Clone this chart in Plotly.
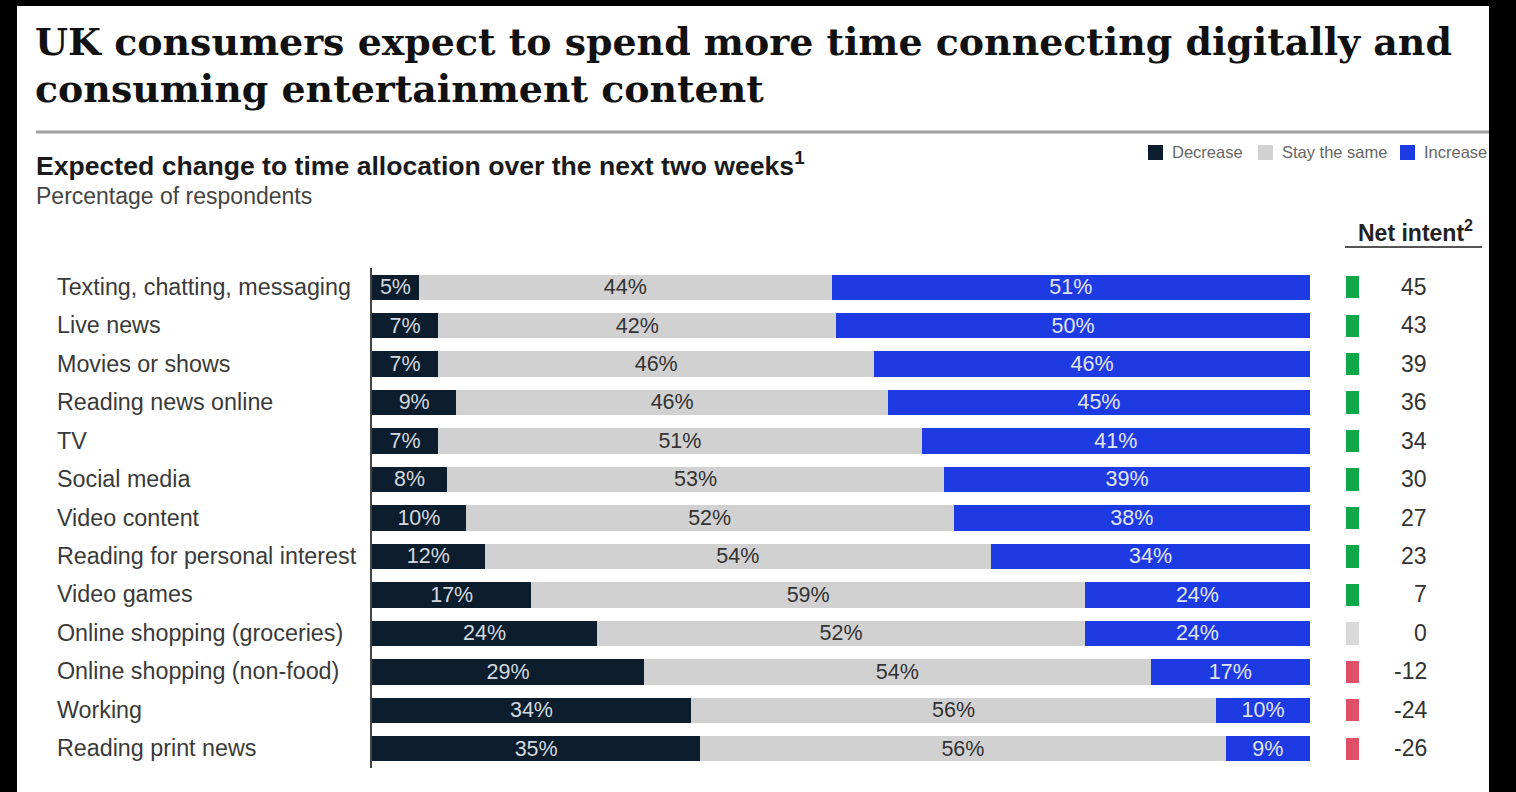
import plotly.graph_objects as go

W, H = 1516, 792

categories = [
    "Texting, chatting, messaging", "Live news", "Movies or shows", "Reading news online",
    "TV", "Social media", "Video content", "Reading for personal interest", "Video games",
    "Online shopping (groceries)", "Online shopping (non-food)", "Working", "Reading print news",
]
decrease = [5, 7, 7, 9, 7, 8, 10, 12, 17, 24, 29, 34, 35]
stay_same = [44, 42, 46, 46, 51, 53, 52, 54, 59, 52, 54, 56, 56]
increase = [51, 50, 46, 45, 41, 39, 38, 34, 24, 24, 17, 10, 9]
net_intent = [45, 43, 39, 36, 34, 30, 27, 23, 7, 0, -12, -24, -26]

C_DEC = "#0c1e2e"
C_SAME = "#d1d1d1"
C_INC = "#1e3be3"
C_POS = "#0ea84b"
C_ZERO = "#d9d9d9"
C_NEG = "#e04f68"

SANS = "Liberation Sans, Arial, Helvetica, sans-serif"
SERIF = "DejaVu Serif, Georgia, serif"


def px(x):
    return x / W


def py(y):
    return 1 - y / H


row_top, row_bot = 267.5, 767.5
fig = go.Figure()

# normalised shares (rows are drawn to a full 100% width)
totals = [d + s + i for d, s, i in zip(decrease, stay_same, increase)]
dec_n = [d / t * 100 for d, t in zip(decrease, totals)]
same_n = [s / t * 100 for s, t in zip(stay_same, totals)]
inc_n = [i / t * 100 for i, t in zip(increase, totals)]

bar_w = 0.66
for name, vals, col in [
    ("Decrease", dec_n, C_DEC),
    ("Stay the same", same_n, C_SAME),
    ("Increase", inc_n, C_INC),
]:
    fig.add_trace(go.Bar(
        y=categories, x=vals, orientation="h", name=name,
        marker=dict(color=col, line=dict(width=0)),
        width=bar_w, showlegend=False, hoverinfo="skip",
        xaxis="x", yaxis="y",
    ))

# segment labels
mid_dec = [d / 2 for d in dec_n]
mid_same = [d + s / 2 for d, s in zip(dec_n, same_n)]
mid_inc = [d + s + i / 2 for d, s, i in zip(dec_n, same_n, inc_n)]
for mids, vals, tcol in [
    (mid_dec, decrease, "#d3d8df"),
    (mid_same, stay_same, "#333333"),
    (mid_inc, increase, "#e0e4f6"),
]:
    fig.add_trace(go.Scatter(
        x=mids, y=categories, mode="text", text=[f"{v}%" for v in vals],
        textposition="middle center",
        textfont=dict(family=SANS, size=21.5, color=tcol),
        showlegend=False, hoverinfo="skip", cliponaxis=False,
        xaxis="x", yaxis="y3",
    ))

net_cols = [C_POS if v > 0 else (C_NEG if v < 0 else C_ZERO) for v in net_intent]
fig.add_trace(go.Bar(
    y=categories, x=[1] * len(categories), orientation="h",
    marker=dict(color=net_cols, line=dict(width=0)), width=0.58,
    showlegend=False, hoverinfo="skip", xaxis="x2", yaxis="y",
))

shift = 2  # px: labels sit slightly lower to look centred in the bars
fig.update_layout(
    width=W, height=H,
    margin=dict(l=0, r=0, t=0, b=0),
    paper_bgcolor="#000000", plot_bgcolor="rgba(0,0,0,0)",
    barmode="stack", bargap=0,
    xaxis=dict(domain=[px(372), px(1310)], range=[0, 100], visible=False, fixedrange=True),
    xaxis2=dict(domain=[px(1346), px(1359)], range=[0, 1], visible=False, anchor="y"),
    yaxis=dict(domain=[py(row_bot), py(row_top)], range=[12.5, -0.5],
               showticklabels=False, showgrid=False, zeroline=False, ticks="",
               showline=True, linecolor="#444444", linewidth=1.5, anchor="x"),
    yaxis3=dict(domain=[py(row_bot + shift), py(row_top + shift)], range=[12.5, -0.5],
                visible=False, anchor="x", type="category",
                categoryorder="array", categoryarray=categories),
    font=dict(family=SANS, color="#333333"),
)

shapes = [
    dict(type="rect", xref="paper", yref="paper", x0=px(17), x1=px(1489), y0=0, y1=py(6),
         fillcolor="#ffffff", line=dict(width=0), layer="below"),
    dict(type="line", xref="paper", yref="paper", x0=px(36), x1=px(1489), y0=py(132), y1=py(132),
         line=dict(color="#a0a0a0", width=3)),
    dict(type="line", xref="paper", yref="paper", x0=px(1345), x1=px(1482), y0=py(247), y1=py(247),
         line=dict(color="#555555", width=2)),
]

annotations = []
# Title (two lines)
for txt, yc in [("UK consumers expect to spend more time connecting digitally and", 41),
                ("consuming entertainment content", 89)]:
    annotations.append(dict(
        xref="paper", yref="paper", x=px(33), y=py(yc), xanchor="left", yanchor="middle",
        text=f"<b>{txt}</b>", showarrow=False,
        font=dict(family=SERIF, size=37.9, color="#111111"),
    ))
annotations.append(dict(
    xref="paper", yref="paper", x=px(34), y=py(164), xanchor="left", yanchor="middle",
    text="<b>Expected change to time allocation over the next two weeks<sup>1</sup></b>",
    showarrow=False, font=dict(family=SANS, size=26.6, color="#1a1a1a"),
))
annotations.append(dict(
    xref="paper", yref="paper", x=px(34), y=py(196), xanchor="left", yanchor="middle",
    text="Percentage of respondents", showarrow=False, font=dict(family=SANS, size=23, color="#444444"),
))
annotations.append(dict(
    xref="paper", yref="paper", x=px(1415), y=py(231), xanchor="center", yanchor="middle",
    text="<b>Net intent<sup>2</sup></b>", showarrow=False, font=dict(family=SANS, size=23, color="#222222"),
))

# Legend (manual)
leg_items = [("Decrease", C_DEC, 1148), ("Stay the same", C_SAME, 1258), ("Increase", C_INC, 1400)]
for name, col, x0 in leg_items:
    shapes.append(dict(type="rect", xref="paper", yref="paper", x0=px(x0), x1=px(x0 + 15),
                       y0=py(160), y1=py(145), fillcolor=col, line=dict(width=0)))
    annotations.append(dict(xref="paper", yref="paper", x=px(x0 + 22), y=py(152),
                            xanchor="left", yanchor="middle", text=name, showarrow=False,
                            font=dict(family=SANS, size=16.5, color="#666666")))

# Category labels
for cat in categories:
    annotations.append(dict(xref="paper", yref="y", x=px(55), y=cat, xanchor="left",
                            yanchor="middle", text=cat, showarrow=False,
                            font=dict(family=SANS, size=23.3, color="#3a3a3a")))

# Net intent values
for cat, v in zip(categories, net_intent):
    annotations.append(dict(xref="paper", yref="y", x=px(1429), y=cat, xanchor="right",
                            yanchor="middle", text=str(v), showarrow=False,
                            font=dict(family=SANS, size=23, color="#333333")))

fig.update_layout(shapes=shapes, annotations=annotations)

fig.write_html("out.html")
